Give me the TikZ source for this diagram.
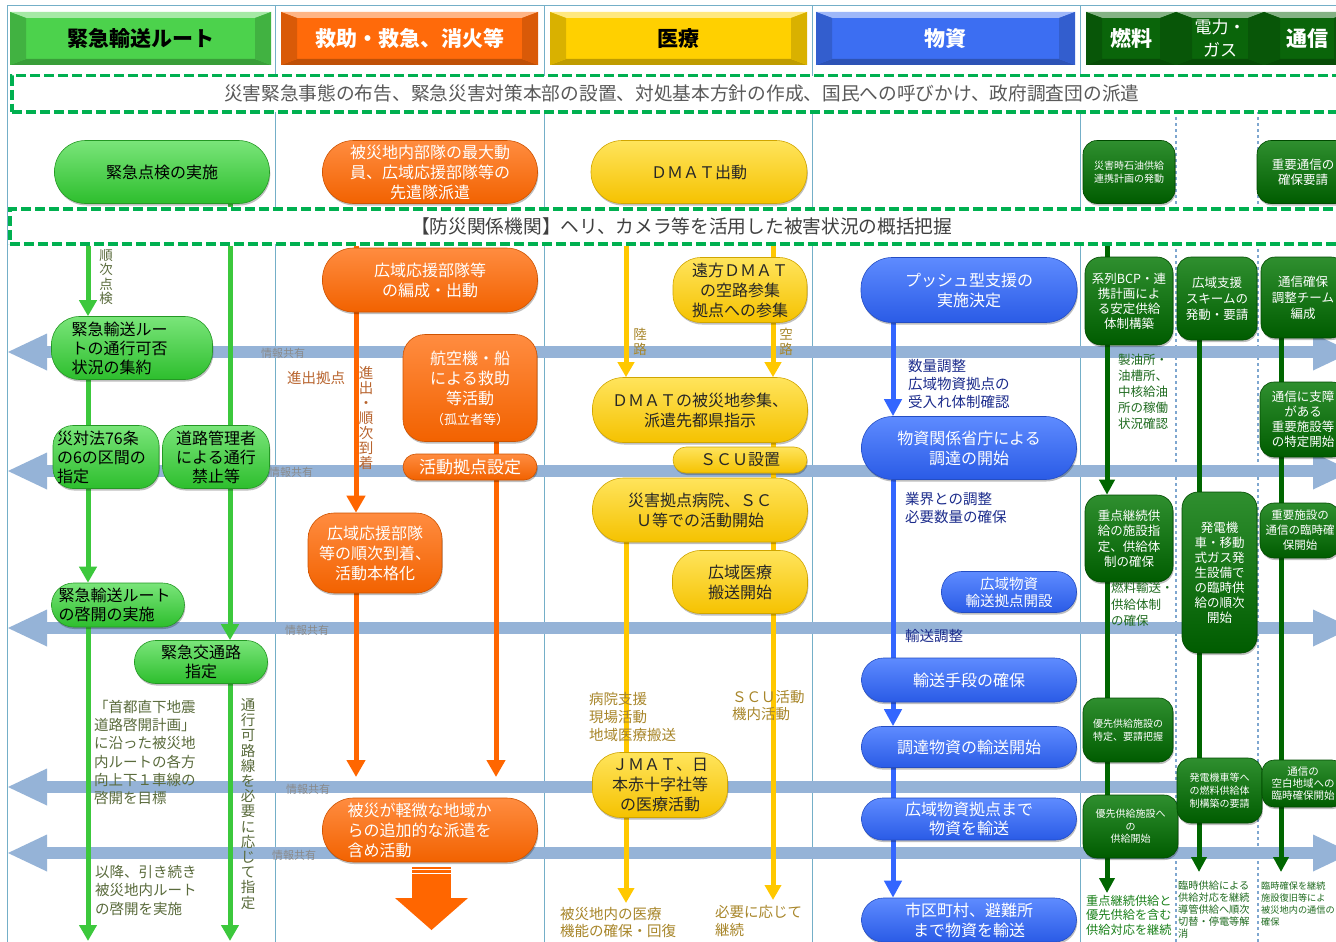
\documentclass[tikz,border=0pt]{standalone}
\usepackage{fontspec}
\setmainfont{Noto Sans CJK JP}
\usetikzlibrary{arrows.meta,shadows}
\newcommand\myfs[2]{\fontsize{#1}{#2}\selectfont}
\definecolor{gTop}{HTML}{7AE57A}\definecolor{gBot}{HTML}{2DBE2D}
\definecolor{oTop}{HTML}{FF8C40}\definecolor{oBot}{HTML}{F26200}
\definecolor{yTop}{HTML}{FFE45C}\definecolor{yBot}{HTML}{F5C200}
\definecolor{bTop}{HTML}{5E8BFF}\definecolor{bBot}{HTML}{2A5BE6}
\definecolor{dTop}{HTML}{2F8F2F}\definecolor{dBot}{HTML}{005C00}
\definecolor{gLine}{HTML}{3CC83C}\definecolor{oLine}{HTML}{FF6600}
\definecolor{yLine}{HTML}{FFC800}\definecolor{bLine}{HTML}{3366FF}
\definecolor{dLine}{HTML}{006600}
\definecolor{band}{HTML}{95B3D7}
\definecolor{colline}{HTML}{74AFC8}
\definecolor{dotc}{HTML}{7FA7D0}
\definecolor{dashc}{HTML}{00B050}
\definecolor{gTxt}{HTML}{5A6B3C}
\definecolor{oTxt}{HTML}{B8642E}
\definecolor{yTxt}{HTML}{A8862A}
\definecolor{bTxt}{HTML}{1C2C8C}
\definecolor{dTxt}{HTML}{1F6B1F}
\definecolor{infoTxt}{HTML}{8A8A8A}
\definecolor{hG}{HTML}{4CD24C}\definecolor{hO}{HTML}{FF6A0A}
\definecolor{hY}{HTML}{FFD000}\definecolor{hB}{HTML}{3C6EF2}
\definecolor{hD}{HTML}{0A650A}
\pgfdeclarelayer{back}
\pgfdeclarelayer{conn}
\pgfsetlayers{back,conn,main}
\newcommand\infoband[1]{\fill[band] (8,#1) -- (47,#1-18.5) -- (47,#1-5.8) -- (1313,#1-5.8) -- (1313,#1-18.5) -- (1352,#1) -- (1313,#1+18.5) -- (1313,#1+5.8) -- (47,#1+5.8) -- (47,#1+18.5) -- cycle;}
\tikzset{
  sz/.style 2 args={minimum width=#1pt, minimum height=#2pt},
  base/.style={inner sep=0pt, align=center, line width=0.6pt,
     drop shadow={shadow xshift=0.8pt, shadow yshift=-2pt, opacity=0.25, fill=black}},
  gn/.style={base, rounded corners=#1, top color=gTop, bottom color=gBot, draw=gBot!80!black, text=black, font=\myfs{16}{19}},
  on/.style={base, rounded corners=#1, top color=oTop, bottom color=oBot, draw=oBot!85!black, text=white, font=\myfs{16}{20}},
  yn/.style={base, rounded corners=#1, top color=yTop, bottom color=yBot, draw=yBot!85!black, text=black!85, font=\myfs{16}{20}},
  bn/.style={base, rounded corners=#1, top color=bTop, bottom color=bBot, draw=bBot!85!black, text=white, font=\myfs{16}{20}},
  dn/.style={base, rounded corners=#1, top color=dTop, bottom color=dBot, draw=dBot!80!black, text=white, font=\myfs{12.5}{15}},
  hdr/.style={fill=#1, inner sep=0pt, align=center, font=\myfs{21}{24}\bfseries,
    path picture={
      \path (path picture bounding box.north west) coordinate (pNW)
            (path picture bounding box.north east) coordinate (pNE)
            (path picture bounding box.south west) coordinate (pSW)
            (path picture bounding box.south east) coordinate (pSE);
      \fill[#1!50!white] (pNW) -- (pNE) -- ([shift={(-16pt,-6pt)}]pNE) -- ([shift={(16pt,-6pt)}]pNW) -- cycle;
      \fill[#1!75!black] (pSW) -- (pSE) -- ([shift={(-16pt,6pt)}]pSE) -- ([shift={(16pt,6pt)}]pSW) -- cycle;
      \fill[#1!85!black] (pNW) -- ([shift={(16pt,-6pt)}]pNW) -- ([shift={(16pt,6pt)}]pSW) -- (pSW) -- cycle;
      \fill[#1!85!black] (pNE) -- ([shift={(-16pt,-6pt)}]pNE) -- ([shift={(-16pt,6pt)}]pSE) -- (pSE) -- cycle;
    }},
  dbox/.style={draw=dashc, line width=3.5pt, dash pattern=on 10pt off 4pt, fill=white, inner sep=0pt},
  lab/.style={inner sep=0pt, align=left, anchor=north west},
  vlab/.style={inner sep=0pt, align=center},
  gl/.style={draw=gLine, line width=5pt},
  ga/.style={gl, -{Triangle[width=17pt,length=16pt]}},
  ol/.style={draw=oLine, line width=5pt},
  oa/.style={ol, -{Triangle[width=18pt,length=17pt]}},
  yl/.style={draw=yLine, line width=5pt},
  ya/.style={yl, -{Triangle[width=16pt,length=15pt]}},
  bl/.style={draw=bLine, line width=5pt},
  ba/.style={bl, -{Triangle[width=17pt,length=17pt]}},
  dl/.style={draw=dLine, line width=5pt},
  da/.style={dl, -{Triangle[width=15pt,length=15pt]}},
  info/.style={inner sep=0pt, text=infoTxt, font=\myfs{11}{12}},
}
\begin{document}
\begin{tikzpicture}[x=1pt,y=-1pt]
\useasboundingbox (0,0) rectangle (1336,942);
\clip (0,0) rectangle (1336,942);
\begin{pgfonlayer}{back}
  \fill[white] (0,0) rectangle (1336,942);
  \draw[colline, line width=1pt] (7,6) -- (1336,6);
  \foreach \cx in {7,275,544,812,1080} \draw[colline, line width=1pt] (\cx,6) -- (\cx,942);
  \foreach \cx in {1176,1258} \draw[dotc, line width=1.2pt, dash pattern=on 3pt off 3pt] (\cx,105) -- (\cx,942);
  \infoband{352}
  \infoband{471}
  \infoband{628}
  \infoband{787}
  \infoband{853}
\end{pgfonlayer}

% headers
\node[hdr=hG, sz={261}{53}, text=black] (h1) at (140.5,38.5) {緊急輸送ルート};
\node[hdr=hO, sz={257}{53}, text=white] (h2) at (409.5,38.5) {救助・救急、消火等};
\node[hdr=hY, sz={257}{53}, text=black] (h3) at (678.5,38.5) {医療};
\node[hdr=hB, sz={259}{53}, text=white] (h4) at (945.5,38.5) {物資};
\node[hdr=hD, sz={90}{53}, text=white] (h5) at (1131,38.5) {燃料};
\node[hdr=hD, sz={88}{53}, text=white, font=\myfs{17}{23}] (h6) at (1220,38.5) {電力・\\ガス};
\node[hdr=hD, sz={86}{53}, text=white] (h7) at (1307,38.5) {通信};

% dashed boxes
\node[dbox, sz={1340}{36}, anchor=north west, font=\myfs{18.7}{20}, text=black!65] (box1) at (10,74) {災害緊急事態の布告、緊急災害対策本部の設置、対処基本方針の作成、国民への呼びかけ、政府調査団の派遣};
\node[dbox, sz={1344}{35}, anchor=north west, font=\myfs{18.7}{20}, text=black!75] (box2) at (8,207) {【防災関係機関】ヘリ、カメラ等を活用した被害状況の概括把握};

% green column
\node[gn=31pt, sz={215}{63}] (g1) at (162,172) {緊急点検の実施};
\node[gn=28pt, text width=121pt, inner xsep=20pt, minimum height=63pt, align=left] (g2) at (132,348) {緊急輸送ルー\\トの通行可否\\状況の集約};
\node[gn=20pt, text width=98pt, inner xsep=4pt, minimum height=63pt, align=left] (g3) at (106,457) {災対法76条\\の6の区間の\\指定};
\node[gn=22pt, sz={107}{63}] (g4) at (216,457) {道路管理者\\による通行\\禁止等};
\node[gn=22pt, text width=119pt, inner xsep=7pt, minimum height=44pt, align=left] (g5) at (118,605) {緊急輸送ルート\\の啓開の実施};
\node[gn=21pt, sz={133}{43}] (g6) at (201,662) {緊急交通路\\指定};

% orange column
\node[on=31pt, sz={215}{63}] (o1) at (430,172) {被災地内部隊の最大動\\員、広域応援部隊等の\\先遣隊派遣};
\node[on=31pt, sz={215}{64}] (o2) at (430,280) {広域応援部隊等\\の編成・出動};
\node[on=22pt, sz={134}{107}] (o3) at (470,388) {航空機・船\\による救助\\等活動\\{\myfs{13}{20}（孤立者等）}};
\node[on=13pt, sz={134}{26}, font=\myfs{17}{20}] (o4) at (470,467) {活動拠点設定};
\node[on=26pt, sz={134}{80}] (o5) at (375,553) {広域応援部隊\\等の順次到着、\\活動本格化};
\node[on=31pt, text width=165pt, inner xsep=25pt, minimum height=64pt, align=left] (o6) at (430,830) {被災が軽微な地域か\\らの追加的な派遣を\\含め活動};

% yellow column
\node[yn=31pt, sz={216}{63}] (y1) at (699,172) {ＤＭＡＴ出動};
\node[yn=28pt, sz={134}{65}] (y2) at (740,290) {遠方ＤＭＡＴ\\の空路参集\\拠点への参集};
\node[yn=31pt, sz={215}{65}] (y3) at (700,410) {ＤＭＡＴの被災地参集、\\派遣先都県指示};
\node[yn=13pt, sz={134}{26}] (y4) at (740,460) {ＳＣＵ設置};
\node[yn=31pt, sz={215}{64}] (y5) at (700,510) {災害拠点病院、ＳＣ\\Ｕ等での活動開始};
\node[yn=28pt, sz={135}{63}] (y6) at (740,582) {広域医療\\搬送開始};
\node[yn=28pt, sz={135}{65}] (y7) at (660,785) {ＪＭＡＴ、日\\本赤十字社等\\の医療活動};

% blue column
\node[bn=31pt, sz={216}{65}] (b1) at (969,290) {プッシュ型支援の\\実施決定};
\node[bn=31pt, sz={215}{63}] (b2) at (969,448) {物資関係省庁による\\調達の開始};
\node[bn=20pt, sz={135}{41}, font=\myfs{14.5}{17}] (b3) at (1009,592) {広域物資\\輸送拠点開設};
\node[bn=22pt, sz={215}{44}] (b4) at (969,680) {輸送手段の確保};
\node[bn=20pt, sz={215}{41}] (b5) at (969,747) {調達物資の輸送開始};
\node[bn=21pt, sz={215}{42}, font=\myfs{16}{19}] (b6) at (969,819) {広域物資拠点まで\\物資を輸送};
\node[bn=22pt, sz={215}{44}] (b7) at (969,920) {市区町村、避難所\\まで物資を輸送};

% dark green (fuel / power / comm)
\node[dn=14pt, sz={92}{63}, font=\myfs{10}{13}] (d1) at (1129,172) {災害時石油供給\\連携計画の発動};
\node[dn=14pt, sz={92}{63}] (d2) at (1303,172) {重要通信の\\確保要請};
\node[dn=16pt, sz={88}{88}] (d3) at (1129,301) {系列BCP・連\\携計画によ\\る安定供給\\体制構築};
\node[dn=14pt, sz={80}{83}, font=\myfs{12.5}{16}] (d4) at (1217,298.5) {広域支援\\スキームの\\発動・要請};
\node[dn=14pt, sz={84}{81}, font=\myfs{12.5}{16}] (d5) at (1303,297.5) {通信確保\\調整チーム\\編成};
\node[dn=14pt, sz={86}{75}] (d6) at (1303,419.5) {通信に支障\\がある\\重要施設等\\の特定開始};
\node[dn=16pt, sz={88}{87}, font=\myfs{12.5}{15.5}] (d7) at (1129,538.5) {重点継続供\\給の施設指\\定、供給体\\制の確保};
\node[dn=16pt, sz={75}{161}] (d8) at (1219.5,572.5) {発電機\\車・移動\\式ガス発\\生設備で\\の臨時供\\給の順次\\開始};
\node[dn=14pt, sz={80}{55}, font=\myfs{11.5}{15}] (d9) at (1300,530.5) {重要施設の\\通信の臨時確\\保開始};
\node[dn=14pt, sz={90}{64}, font=\myfs{10}{12.5}] (d10) at (1128,730) {優先供給施設の\\特定、要請把握};
\node[dn=14pt, sz={95}{63}, font=\myfs{10}{12.5}] (d11) at (1130.5,826.5) {優先供給施設へ\\の\\供給開始};
\node[dn=14pt, sz={85}{65}, font=\myfs{10}{13}] (d12) at (1219.5,790.5) {発電機車等へ\\の燃料供給体\\制構築の要請};
\node[dn=12pt, sz={82}{47}, font=\myfs{10.5}{12}] (d13) at (1303,783.5) {通信の\\空白地域への\\臨時確保開始};

% info labels
\node[info] (i1) at (283,353) {情報共有};
\node[info] (i2) at (291,472) {情報共有};
\node[info] (i3) at (307,630) {情報共有};
\node[info] (i4) at (308,789) {情報共有};
\node[info] (i5) at (294,855) {情報共有};

% annotation texts
\node[vlab, text=gTxt, font=\myfs{13.5}{14.3}] (t1) at (106,277) {順\\次\\点\\検};
\node[lab, text=gTxt, font=\myfs{14.5}{18.2}] (t2) at (94,700) {「首都直下地震\\道路啓開計画」\\に沿った被災地\\内ルートの各方\\向上下１車線の\\啓開を目標};
\node[vlab, text=gTxt, font=\myfs{14.5}{15.2}] (t3) at (248,804) {通\\行\\可\\路\\線\\を\\必\\要\\に\\応\\じ\\て\\指\\定};
\node[lab, text=gTxt, font=\myfs{14.5}{18.5}] (t4) at (95,865) {以降、引き続き\\被災地内ルート\\の啓開を実施};
\node[inner sep=0pt, text=oTxt, font=\myfs{14.5}{16}] (t5) at (316,378) {進出拠点};
\node[vlab, text=oTxt, font=\myfs{14.5}{15}] (t6) at (366,418) {進\\出\\・\\順\\次\\到\\着};
\node[vlab, text=yTxt, font=\myfs{13.5}{15}] (t7) at (640,342) {陸\\路};
\node[vlab, text=yTxt, font=\myfs{13.5}{15}] (t8) at (786,342) {空\\路};
\node[lab, text=yTxt, font=\myfs{14.5}{18}] (t9) at (589,692) {病院支援\\現場活動\\地域医療搬送};
\node[lab, text=yTxt, font=\myfs{14.5}{17.5}] (t10) at (732,690) {ＳＣＵ活動\\機内活動};
\node[lab, text=yTxt, font=\myfs{14.5}{17.5}] (t11) at (560,907) {被災地内の医療\\機能の確保・回復};
\node[lab, text=yTxt, font=\myfs{14.5}{18}] (t12) at (715,905) {必要に応じて\\継続};
\node[lab, text=bTxt, font=\myfs{14.5}{18}] (t13) at (908,359) {数量調整\\広域物資拠点の\\受入れ体制確認};
\node[lab, text=bTxt, font=\myfs{14.5}{18}] (t14) at (905,492) {業界との調整\\必要数量の確保};
\node[lab, text=bTxt, font=\myfs{14.5}{18}] (t15) at (905,629) {輸送調整};
\node[lab, text=dTxt, font=\myfs{12.5}{16}] (t16) at (1118,354) {製油所・\\油槽所、\\中核給油\\所の稼働\\状況確認};
\node[lab, text=dTxt, font=\myfs{12.5}{16.5}] (t17) at (1111,582) {燃料輸送・\\供給体制\\の確保};
\node[lab, text=dTxt!85!green, font=\myfs{12.2}{14.5}] (t18) at (1086,895) {重点継続供給と\\優先供給を含む\\供給対応を継続};
\node[lab, text=dTxt, font=\myfs{10.2}{12}] (t19) at (1178,881) {臨時供給による\\供給対応を継続\\導管供給へ順次\\切替・停電等解\\消};
\node[lab, text=dTxt, font=\myfs{9.2}{12}] (t20) at (1261,882) {臨時確保を継続\\施設復旧等によ\\被災地内の通信の\\確保};

% coordinates for connector x positions and free ends
\coordinate (L88) at (88,0);
\coordinate (L230) at (230,0);
\coordinate (L356) at (356,0);
\coordinate (L496) at (496,0);
\coordinate (L626) at (626,0);
\coordinate (L773) at (773,0);
\coordinate (L893) at (893,0);
\coordinate (L1107) at (1107,0);
\coordinate (L1199) at (1199,0);
\coordinate (L1281) at (1281,0);
\coordinate (bot) at (0,941);
\coordinate (oe1) at (356,777);
\coordinate (oe2) at (496,777);
\coordinate (ye1) at (626,903);
\coordinate (ye2) at (773,900);
\coordinate (de1) at (1107,893);
\coordinate (de2) at (1199,872);
\coordinate (de3) at (1281,872);

\begin{pgfonlayer}{conn}
  % green
  \draw[ga] (box2.south -| L88) -- (g2.north -| L88);
  \draw[gl] (g2.south -| L88) -- (g3.north -| L88);
  \draw[ga] (g3.south -| L88) -- (g5.north -| L88);
  \draw[ga] (g5.south -| L88) -- (bot -| L88);
  \draw[gl] (g1.south -| L230) -- (box2.north -| L230);
  \draw[gl] (box2.south -| L230) -- (g4.north -| L230);
  \draw[ga] (g4.south -| L230) -- (g6.north -| L230);
  \draw[ga] (g6.south -| L230) -- (bot -| L230);
  % orange
  \draw[ol] (box2.south -| L356) -- (o2.north -| L356);
  \draw[oa] (o2.south -| L356) -- (o5.north -| L356);
  \draw[oa] (o5.south -| oe1) -- (oe1);
  \draw[ol] (o3.south -| L496) -- (o4.north -| L496);
  \draw[oa] (o4.south -| oe2) -- (oe2);
  % yellow
  \draw[ya] (box2.south -| L626) -- (y3.north -| L626);
  \draw[yl] (box2.south -| L773) -- (y2.north -| L773);
  \draw[ya] (y2.south -| L773) -- (y3.north -| L773);
  \draw[yl] (y3.south -| L773) -- (y4.north -| L773);
  \draw[yl] (y4.south -| L773) -- (y5.north -| L773);
  \draw[yl] (y5.south -| L773) -- (y6.north -| L773);
  \draw[ya] (y6.south -| ye2) -- (ye2);
  \draw[ya] (y5.south -| ye1) -- (ye1);
  % blue
  \draw[ba] (b1.south -| L893) -- (b2.north -| L893);
  \draw[bl] (b2.south -| L893) -- (b4.north -| L893);
  \draw[ba] (b4.south -| L893) -- (b5.north -| L893);
  \draw[bl] (b5.south -| L893) -- (b6.north -| L893);
  \draw[ba] (b6.south -| L893) -- (b7.north -| L893);
  % dark green
  \draw[da] (box2.south -| L1107) -- (d7.north -| L1107);
  \draw[dl] (d7.south -| L1107) -- (d10.north -| L1107);
  \draw[dl] (d10.south -| L1107) -- (d11.north -| L1107);
  \draw[da] (d11.south -| de1) -- (de1);
  \draw[dl] (d4.south -| L1199) -- (d8.north -| L1199);
  \draw[dl] (d8.south -| L1199) -- (d12.north -| L1199);
  \draw[da] (d12.south -| de2) -- (de2);
  \draw[dl] (d5.south -| L1281) -- (d6.north -| L1281);
  \draw[dl] (d6.south -| L1281) -- (d9.north -| L1281);
  \draw[dl] (d9.south -| L1281) -- (d13.north -| L1281);
  \draw[da] (d13.south -| de3) -- (de3);
\end{pgfonlayer}

% big block arrow below orange column
\fill[oLine] (412,867) rectangle (451,898);
\fill[oLine] (395,898) -- (468,898) -- (431.5,930) -- cycle;
\draw[white, line width=1.3pt] (412,869.5) -- (451,869.5);
\draw[white, line width=1.3pt] (412,873.5) -- (451,873.5);
\end{tikzpicture}
\end{document}
